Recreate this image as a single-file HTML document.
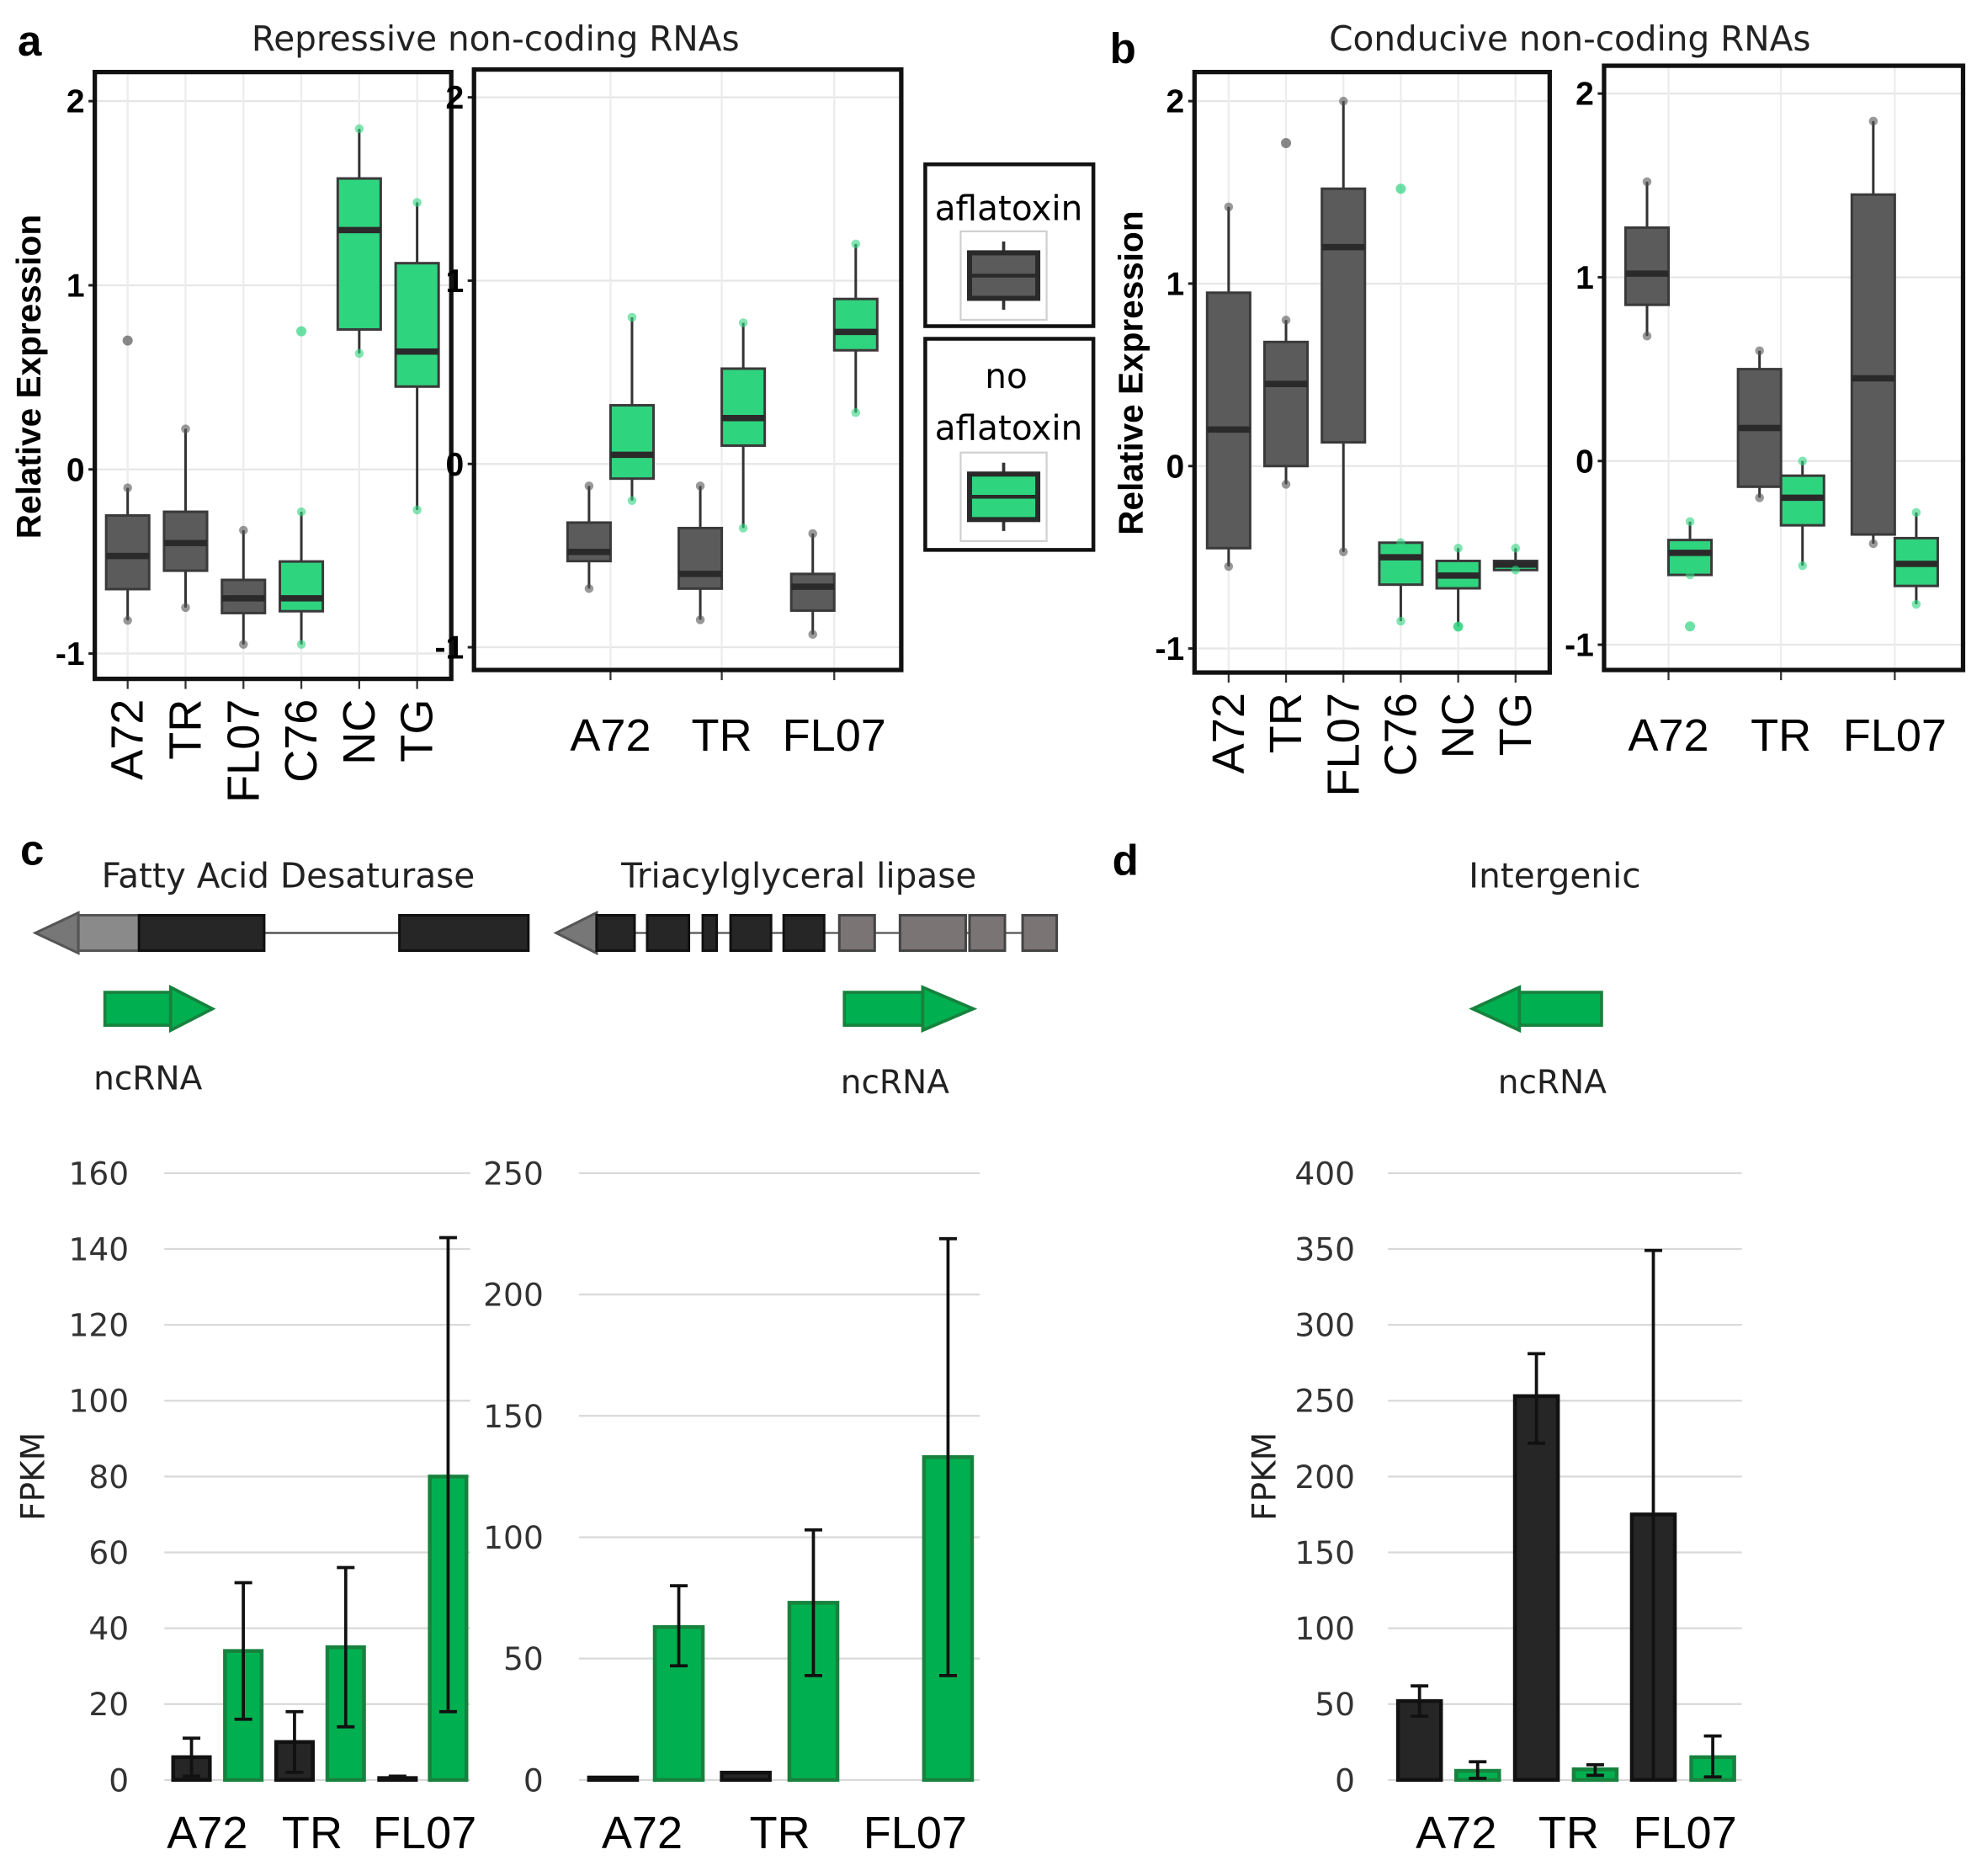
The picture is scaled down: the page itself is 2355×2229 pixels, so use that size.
<!DOCTYPE html>
<html><head><meta charset="utf-8">
<style>
html,body{margin:0;padding:0;background:#fff;}
svg{display:block;}
text{font-family:"Liberation Sans",sans-serif;}
.cal{font-family:"DejaVu Sans","Liberation Sans",sans-serif;}
</style></head>
<body>
<svg id="fig" xmlns="http://www.w3.org/2000/svg" width="2355" height="2229" viewBox="0 0 1568 1484" preserveAspectRatio="none">
<rect x="0" y="0" width="1568" height="1484" fill="#fff"/>
<text x="14" y="44" font-size="34" font-weight="bold">a</text>
<text x="392" y="40" font-size="27" text-anchor="middle" fill="#222" class="cal">Repressive  non-coding RNAs</text>
<text x="878" y="50" font-size="34" font-weight="bold">b</text>
<text x="1242" y="40" font-size="27" text-anchor="middle" fill="#222" class="cal">Conducive non-coding RNAs</text>
<text x="16" y="684" font-size="34" font-weight="bold">c</text>
<text x="880" y="692" font-size="34" font-weight="bold">d</text>
<text x="228" y="702" font-size="27" text-anchor="middle" fill="#222" class="cal">Fatty Acid Desaturase</text>
<text x="632" y="702" font-size="27" text-anchor="middle" fill="#222" class="cal">Triacylglyceral lipase</text>
<text x="1230" y="702" font-size="27" text-anchor="middle" fill="#222" class="cal">Intergenic</text>
<g id="genes"></g>
<g id="charts"></g>
<g id="legend"></g>
</svg>
<script>
// ---------- Box plot data: [q1, median, q3, whiskerLow, whiskerHigh] ----------
const aLeftCats = ["A72","TR","FL07","C76","NC","TG"];
const aLeftGroup = ["gray","gray","gray","green","green","green"];
const aLeftStats = [[-0.65,-0.47,-0.25,-0.82,-0.1],[-0.55,-0.4,-0.23,-0.75,0.22],[-0.78,-0.7,-0.6,-0.95,-0.33],[-0.77,-0.7,-0.5,-0.95,-0.23],[0.76,1.3,1.58,0.63,1.85],[0.45,0.64,1.12,-0.22,1.45]];
const aLeftOutliers = [[0.7],[],[],[0.75],[],[]];
const aRightCats = ["A72","TR","FL07"];
const aRightGray = [[-0.53,-0.48,-0.32,-0.68,-0.12],[-0.68,-0.6,-0.35,-0.85,-0.12],[-0.8,-0.67,-0.6,-0.93,-0.38]];
const aRightGreen = [[-0.08,0.05,0.32,-0.2,0.8],[0.1,0.25,0.52,-0.35,0.77],[0.62,0.72,0.9,0.28,1.2]];
const bLeftCats = ["A72","TR","FL07","C76","NC","TG"];
const bLeftGroup = ["gray","gray","gray","green","green","green"];
const bLeftStats = [[-0.45,0.2,0.95,-0.55,1.42],[0.0,0.45,0.68,-0.1,0.8],[0.13,1.2,1.52,-0.47,2.0],[-0.65,-0.5,-0.42,-0.85,-0.42],[-0.67,-0.6,-0.52,-0.88,-0.45],[-0.57,-0.54,-0.52,-0.57,-0.45]];
const bLeftOutliers = [[],[1.77],[],[1.52],[-0.88],[]];
const bRightCats = ["A72","TR","FL07"];
const bRightGray = [[0.85,1.02,1.27,0.68,1.52],[-0.14,0.18,0.5,-0.2,0.6],[-0.4,0.45,1.45,-0.45,1.85]];
const bRightGreen = [[-0.62,-0.5,-0.43,-0.62,-0.33],[-0.35,-0.2,-0.08,-0.57,0.0],[-0.68,-0.56,-0.42,-0.78,-0.28]];
const bRightGreenOutliers = [[-0.9],[],[]];
const boxTicks = [-1,0,1,2];

// ---------- Bar chart data ----------
const barCats = ["A72","TR","FL07"];
const c1Gray = [6,10,0.5];       const c1GrayErr = [[1,11],[2,18],[0,1]];
const c1Green = [34,35,80];      const c1GreenErr = [[16,52],[14,56],[18,143]];
const c1Ticks = [0,20,40,60,80,100,120,140,160];
const c2Gray = [1,3,0];          const c2GrayErr = [null,null,null];
const c2Green = [63,73,133];     const c2GreenErr = [[47,80],[43,103],[43,223]];
const c2Ticks = [0,50,100,150,200,250];
const dGray = [52,253,175];      const dGrayErr = [[42,62],[222,281],[0,349]];
const dGreen = [6,7,15];         const dGreenErr = [[1,12],[3,10],[2,29]];
const dTicks = [0,50,100,150,200,250,300,350,400];

const NS="http://www.w3.org/2000/svg";
function mk(tag, attrs, parent){const e=document.createElementNS(NS,tag);for(const k in attrs)e.setAttribute(k,attrs[k]);(parent||document.getElementById('charts')).appendChild(e);return e;}
const COL={gray:{fill:"#5b5b5b",stroke:"#333",pt:"#555"},green:{fill:"#2fd47f",stroke:"#3a3a3a",pt:"#2fd47f"}};

function boxPanel(name,P,cats,drawGroups,rotLabels){
  const g=mk('g',{});
  
  
  const y=v=>P.y0+(P.ymax-v)*(P.y1-P.y0)/(P.ymax-P.ymin);
  boxTicks.forEach(t=>{
    const gl=mk('line',{x1:P.left,x2:P.right,y1:y(t),y2:y(t),stroke:"#e6e6e6","stroke-width":1.5},g);
    
    
    mk('line',{x1:P.left-5,x2:P.left,y1:y(t),y2:y(t),stroke:"#222","stroke-width":2},g);
    const tl=mk('text',{x:P.left-8,y:y(t)+9,"font-size":26,"font-weight":"bold","text-anchor":"end"},g);
    tl.textContent=String(t);
    
    
  });
  cats.forEach((c,i)=>{
    const cx=P.cx(i);
    mk('line',{x1:cx,x2:cx,y1:P.top,y2:P.bottom,stroke:"#ececec","stroke-width":1.5},g);
    mk('line',{x1:cx,x2:cx,y1:P.bottom,y2:P.bottom+8,stroke:"#333","stroke-width":1.5},g);
    let t;
    if(rotLabels){
      t=mk('text',{x:0,y:0,"font-size":36,"text-anchor":"end",transform:`translate(${cx+12},${P.bottom+16}) rotate(-90)`},g);
    } else {
      t=mk('text',{x:cx,y:P.bottom+64,"font-size":36,"text-anchor":"middle"},g);
    }
    t.textContent=c;
    
    
  });
  drawGroups(g,y);
  const fr=mk('rect',{x:P.left,y:P.top,width:P.right-P.left,height:P.bottom-P.top,fill:"none",stroke:"#111","stroke-width":3.5},g);
  
  
}
function drawBox(g,y,cx,w,s,col,outs){
  const C=COL[col];
  const bg=mk('g',{},g);
  
  
  mk('line',{x1:cx,x2:cx,y1:y(s[3]),y2:y(s[4]),stroke:"#333","stroke-width":2},bg);
  mk('rect',{x:cx-w/2,y:y(s[2]),width:w,height:Math.max(1,y(s[0])-y(s[2])),fill:C.fill,stroke:"#3a3a3a","stroke-width":2},bg);
  mk('line',{x1:cx-w/2,x2:cx+w/2,y1:y(s[1]),y2:y(s[1]),stroke:"#2a2a2a","stroke-width":5},bg);
  (outs||[]).forEach(v=>{const p=mk('circle',{cx:cx,cy:y(v),r:4,fill:C.pt,opacity:0.7},bg);
    
    });
  [s[3],s[4]].forEach(v=>mk('circle',{cx:cx,cy:y(v),r:3.5,fill:C.pt,opacity:0.6},bg));
}

const PaL={left:75,right:357,top:57,bottom:537,y0:80,y1:517,ymax:2,ymin:-1,cx:i=>101+i*45.8};
boxPanel('panel-a-left',PaL,aLeftCats,(g,y)=>{aLeftStats.forEach((s,i)=>drawBox(g,y,PaL.cx(i),34,s,aLeftGroup[i],aLeftOutliers[i]));},true);
const PaR={left:375,right:713,top:55,bottom:530,y0:77,y1:512,ymax:2,ymin:-1,cx:i=>[483,571,660][i]};
boxPanel('panel-a-right',PaR,aRightCats,(g,y)=>{aRightCats.forEach((c,i)=>{drawBox(g,y,PaR.cx(i)-17,34,aRightGray[i],'gray');drawBox(g,y,PaR.cx(i)+17,34,aRightGreen[i],'green');});},false);
const PbL={left:945,right:1226,top:57,bottom:532,y0:80,y1:513,ymax:2,ymin:-1,cx:i=>972+i*45.4};
boxPanel('panel-b-left',PbL,bLeftCats,(g,y)=>{bLeftStats.forEach((s,i)=>drawBox(g,y,PbL.cx(i),34,s,bLeftGroup[i],bLeftOutliers[i]));},true);
const PbR={left:1269,right:1553,top:52,bottom:530,y0:74,y1:510,ymax:2,ymin:-1,cx:i=>[1320,1409,1499][i]};
boxPanel('panel-b-right',PbR,bRightCats,(g,y)=>{bRightCats.forEach((c,i)=>{drawBox(g,y,PbR.cx(i)-17,34,bRightGray[i],'gray');drawBox(g,y,PbR.cx(i)+17,34,bRightGreen[i],'green',bRightGreenOutliers[i]);});},false);

[[24,298,'y-axis-title-a'],[896,295,'y-axis-title-b']].forEach(a=>{
  const t=mk('text',{x:0,y:0,"font-size":27,"font-weight":"bold","text-anchor":"middle",transform:`translate(${a[0]+8},${a[1]}) rotate(-90)`});
  t.textContent="Relative Expression";
  
  
});

function barChart(name,B,ticks,gray,grayErr,green,greenErr){
  const g=mk('g',{});
  
  
  const y=v=>B.y0-v*(B.y0-B.ytop)/B.max;
  ticks.forEach(t=>{
    const l=mk('line',{x1:B.gl,x2:B.gr,y1:y(t),y2:y(t),stroke:"#d9d9d9","stroke-width":1.5},g);
    
    
    const tx=mk('text',{x:B.lx,y:y(t)+9,"font-size":25,"text-anchor":"end",fill:"#333",class:"cal"},g);
    tx.textContent=String(t);
    
    
  });
  barCats.forEach((c,i)=>{
    const sets=[[gray,grayErr,"#262626","#111",B.gx(i),'gray-bar'],[green,greenErr,"#00b050","#17823d",B.gnx(i),'green-bar']];
    sets.forEach(S=>{
      const v=S[0][i];
      if(v>0){const r=mk('rect',{x:S[4],y:y(v),width:B.w,height:y(0)-y(v),fill:S[2],stroke:S[3],"stroke-width":3},g);
        
        }
      const e=S[1][i];
      if(e){const cx=S[4]+B.w/2;
        const eg=mk('g',{stroke:"#111","stroke-width":2.5},g);
        
        
        mk('line',{x1:cx,x2:cx,y1:y(e[0]),y2:y(e[1])},eg);
        mk('line',{x1:cx-7,x2:cx+7,y1:y(e[0]),y2:y(e[0])},eg);
        mk('line',{x1:cx-7,x2:cx+7,y1:y(e[1]),y2:y(e[1])},eg);}
    });
    const t=mk('text',{x:B.lab[i],y:1462,"font-size":36,"text-anchor":"middle"},g);
    t.textContent=c;
    
    
  });
}
barChart('chart-c-fad',{y0:1408,ytop:928,max:160,gl:130,gr:372,lx:102,w:29,gx:i=>137+i*81.5,gnx:i=>178+i*81,lab:[164,247,336]},c1Ticks,c1Gray,c1GrayErr,c1Green,c1GreenErr);
barChart('chart-c-lipase',{y0:1408,ytop:928,max:250,gl:458,gr:775,lx:430,w:38,gx:i=>466+i*105,gnx:i=>518+i*106.5,lab:[508,617,724]},c2Ticks,c2Gray,c2GrayErr,c2Green,c2GreenErr);
barChart('chart-d-intergenic',{y0:1408,ytop:928,max:400,gl:1098,gr:1378,lx:1072,w:34,gx:i=>1106+i*92.5,gnx:i=>1152+i*93,lab:[1152,1241,1333]},dTicks,dGray,dGrayErr,dGreen,dGreenErr);
[[26,1168,'y-axis-title-c'],[1000,1168,'y-axis-title-d']].forEach(a=>{
  const t=mk('text',{x:0,y:0,"font-size":26,"text-anchor":"middle",fill:"#222",class:"cal",transform:`translate(${a[0]+9},${a[1]}) rotate(-90)`});
  t.textContent="FPKM";
  
  
});

const G=document.getElementById('genes');
function gp(tag,a,name){const e=mk(tag,a,G);return e;}
gp('line',{x1:209,x2:316,y1:738,y2:738,stroke:"#444","stroke-width":1.5},'intron-line');
gp('polygon',{points:"28,738 62,722 62,754",fill:"#777",stroke:"#555","stroke-width":2},'gene-arrowhead');
gp('rect',{x:62,y:724,width:48,height:28,fill:"#8a8a8a",stroke:"#555","stroke-width":2},'utr-exon');
gp('rect',{x:110,y:724,width:99,height:28,fill:"#262626",stroke:"#111","stroke-width":2},'exon');
gp('rect',{x:316,y:724,width:102,height:28,fill:"#262626",stroke:"#111","stroke-width":2},'exon');
gp('line',{x1:472,x2:836,y1:738,y2:738,stroke:"#555","stroke-width":1.5},'intron-line');
gp('polygon',{points:"440,738 472,722 472,754",fill:"#777",stroke:"#555","stroke-width":2},'gene-arrowhead');
[[472,30],[512,33],[556,11],[578,32],[620,32]].forEach(e=>gp('rect',{x:e[0],y:724,width:e[1],height:28,fill:"#262626",stroke:"#111","stroke-width":2},'exon'));
[[664,28],[712,52],[767,28],[809,27]].forEach(e=>gp('rect',{x:e[0],y:724,width:e[1],height:28,fill:"#7a7474",stroke:"#444","stroke-width":2},'utr-exon'));
function ncArrow(x0,x1,tip,dir){
  const y=798;
  if(dir>0){gp('rect',{x:x0,y:y-13,width:x1-x0,height:26,fill:"#00b050",stroke:"#17823d","stroke-width":2.5},'ncrna-arrow-body');
    gp('polygon',{points:`${x1},${y-17} ${tip},${y} ${x1},${y+17}`,fill:"#00b050",stroke:"#17823d","stroke-width":2.5},'ncrna-arrow-head');}
  else{gp('rect',{x:x1,y:y-13,width:x0-x1,height:26,fill:"#00b050",stroke:"#17823d","stroke-width":2.5},'ncrna-arrow-body');
    gp('polygon',{points:`${x1},${y-17} ${tip},${y} ${x1},${y+17}`,fill:"#00b050",stroke:"#17823d","stroke-width":2.5},'ncrna-arrow-head');}
}
ncArrow(83,135,168,1);ncArrow(668,730,770,1);ncArrow(1267,1202,1165,-1);
[[117,862],[708,865],[1228,865]].forEach(p=>{const t=gp('text',{x:p[0],y:p[1],"font-size":26,"text-anchor":"middle",fill:"#222",class:"cal"},'ncrna-label');t.textContent="ncRNA";});

const L=document.getElementById('legend');
function lp(tag,a,name){const e=mk(tag,a,L);return e;}
lp('rect',{x:732,y:130,width:133,height:128,fill:"#fff",stroke:"#111","stroke-width":3},'legend-box-aflatoxin');
lp('rect',{x:732,y:268,width:133,height:167,fill:"#fff",stroke:"#111","stroke-width":3},'legend-box-no-aflatoxin');
let t=lp('text',{x:798,y:174,"font-size":27,"text-anchor":"middle",class:"cal"},'legend-label-aflatoxin');t.textContent="aflatoxin";
t=lp('text',{x:796,y:307,"font-size":27,"text-anchor":"middle",class:"cal"},'legend-label-no');t.textContent="no";
t=lp('text',{x:798,y:348,"font-size":27,"text-anchor":"middle",class:"cal"},'legend-label-no-aflatoxin');t.textContent="aflatoxin";
[[183,'#5b5b5b','legend-key-aflatoxin'],[358,'#2fd47f','legend-key-no-aflatoxin']].forEach(k=>{
  const y0=k[0];
  lp('rect',{x:760,y:y0,width:68,height:70,fill:"#fff",stroke:"#d0d0d0","stroke-width":1.5},k[2]+'-bg');
  lp('line',{x1:794,x2:794,y1:y0+8,y2:y0+62,stroke:"#333","stroke-width":2.5},k[2]+'-whisker');
  lp('rect',{x:767,y:y0+17,width:54,height:36,fill:k[1],stroke:"#2a2a2a","stroke-width":4},k[2]);
  lp('line',{x1:767,x2:821,y1:y0+35,y2:y0+35,stroke:"#2a2a2a","stroke-width":3},k[2]+'-median');
});
</script>
</body></html>
